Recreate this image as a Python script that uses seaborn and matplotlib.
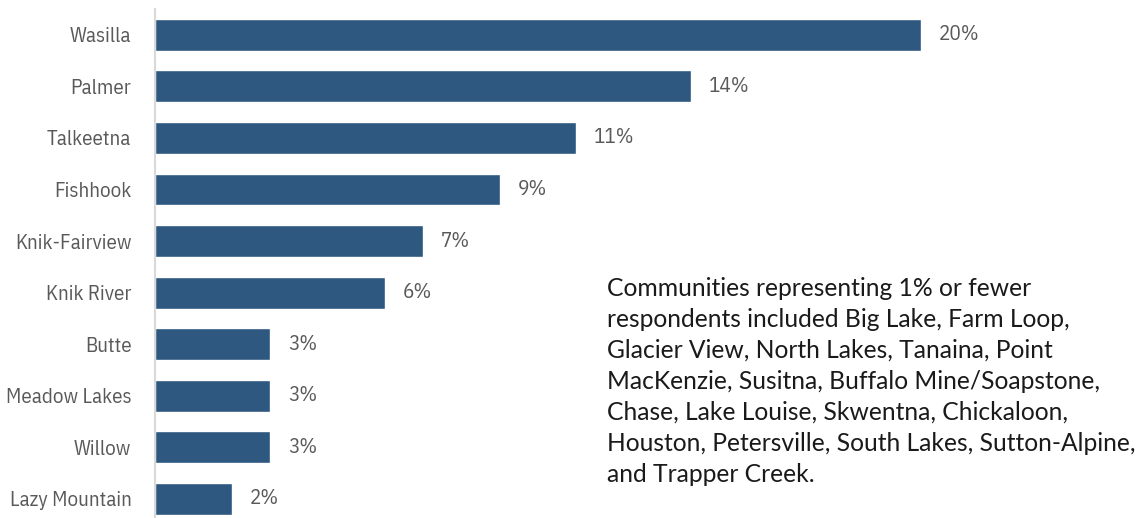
import matplotlib
matplotlib.use("Agg")
import matplotlib.pyplot as plt
import seaborn as sns
import pandas as pd

communities = ["Wasilla", "Palmer", "Talkeetna", "Fishhook", "Knik-Fairview",
               "Knik River", "Butte", "Meadow Lakes", "Willow", "Lazy Mountain"]
shares = [20, 14, 11, 9, 7, 6, 3, 3, 3, 2]
value_labels = ["20%", "14%", "11%", "9%", "7%", "6%", "3%", "3%", "3%", "2%"]
note = ("Communities representing 1% or fewer\n"
        "respondents included Big Lake, Farm Loop,\n"
        "Glacier View, North Lakes, Tanaina, Point\n"
        "MacKenzie, Susitna, Buffalo Mine/Soapstone,\n"
        "Chase, Lake Louise, Skwentna, Chickaloon,\n"
        "Houston, Petersville, South Lakes, Sutton-Alpine,\n"
        "and Trapper Creek.")

sns.set_theme(style="white")
df = pd.DataFrame({"community": communities, "share": shares})

fig = plt.figure(figsize=(11.45, 5.18), dpi=100)
W, H = 1145, 518
ax = fig.add_axes([155 / W, 0, (1055 - 155) / W, (518 - 9) / H])
sns.barplot(data=df, x="share", y="community", color="#2E5880", width=0.62,
            saturation=1, ax=ax, orient="h")
ax.set_xlim(0, 23.5)
ax.set_ylim(9.37, -0.5)

narrow = ["IBM Plex Sans Condensed", "DejaVu Sans"]
for i, (v, lab) in enumerate(zip(shares, value_labels)):
    ax.text(v + 0.47, i, lab, va="center", ha="left", fontsize=15.2,
            color="#595959", family=narrow, fontweight="normal")

ax.set_xlabel("")
ax.set_ylabel("")
ax.set_xticks([])
ax.tick_params(axis="y", length=0, pad=17)
for t in ax.get_yticklabels():
    t.set_fontsize(15)
    t.set_color("#595959")
    t.set_family(narrow)
    t.set_fontweight("normal")
for s in ["top", "right", "bottom"]:
    ax.spines[s].set_visible(False)
ax.spines["left"].set_color("#D9D9D9")
ax.spines["left"].set_linewidth(1.5)

fig.text(607 / W, 1 - 277 / H, note, ha="left", va="top", fontsize=17.7,
         color="#1a1a1a", family=["Lato", "DejaVu Sans"], linespacing=1.42)

fig.savefig("out.png", dpi=100)
